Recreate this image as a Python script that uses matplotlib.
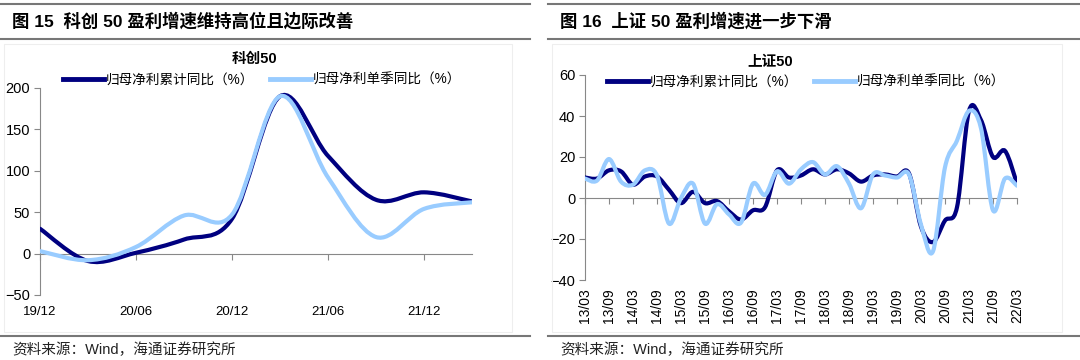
import numpy as np
import matplotlib.pyplot as plt
from matplotlib.path import Path
from matplotlib.patches import PathPatch, Rectangle
from matplotlib.lines import Line2D

plt.rcParams['font.family'] = ['Liberation Sans', 'Noto Sans CJK SC']

# 科创50 quarterly
kc_dates = ['19/12', '20/03', '20/06', '20/09', '20/12', '21/03', '21/06', '21/09', '21/12', '22/03']
kc_cum = [30, -9, 1, 17, 42, 190, 118, 65, 74, 63]
kc_q = [3, -8, 8, 46, 47, 190, 92, 20, 54, 62]

# 上证50 quarterly 13/03 .. 22/03
sz_dates = ['%02d/%s' % (y, m) for y in range(13, 23) for m in ['03', '06', '09', '12']][:37]
sz_cum = [10, 9.5, 13.5, 13, 6.5, 10.5, 10.5, 4, -2.5, 3, -2.5, -1.5, -6.5, -10.5, -6, -4.5,
          13.5, 10, 11, 14, 11.5, 14, 12, 8, 11, 11.5, 10.5, 12, -14, -21.5, -11, -4.5,
          42.5, 38, 20, 23, 7]
sz_q = [9.5, 8.5, 19, 8, 6.5, 13.5, 11, -12.5, 0, 7, -12.5, -3, -8, -12, 7, 1.5,
        13, 7, 14, 17.5, 11.5, 15.5, 7, -5, 11.5, 11, 10, 11.5, -13, -26, 15, 28,
        42.5, 34, -6, 9.5, 6]

lbl_cum = '归母净利累计同比（%）'
lbl_q = '归母净利单季同比（%）'
c_dark = '#000080'
c_light = '#99CCFF'


def smooth_line(ax, ys, color):
    # excel-like smoothed line: cubic bezier through the data points
    p = np.column_stack([np.arange(len(ys)), ys]).astype(float)
    ext = np.vstack([p[0], p, p[-1]])
    verts = [p[0]]
    codes = [Path.MOVETO]
    for i in range(len(p) - 1):
        c1 = p[i] + (ext[i + 2] - ext[i]) / 6
        c2 = p[i + 1] - (ext[i + 3] - ext[i + 1]) / 6
        verts += [c1, c2, p[i + 1]]
        codes += [Path.CURVE4] * 3
    ax.add_patch(PathPatch(Path(verts, codes), fill=False, edgecolor=color, lw=3,
                           capstyle='round', joinstyle='round', zorder=3))


W, H = 1080, 360
fig = plt.figure(figsize=(W / 100, H / 100), dpi=100)


def frame(x0, x1, title):
    for yy in [4, 39, 336]:
        fig.add_artist(Line2D([x0 / W, x1 / W], [1 - yy / H, 1 - yy / H], color='#777777', lw=1.5))
    fig.add_artist(Rectangle(((x0 + 4) / W, 1 - 332 / H), (x1 - x0 - 22) / W, 288 / H,
                             fill=False, edgecolor='#eeeeee', lw=0.8))
    fig.text((x0 + 12) / W, 1 - 21 / H, title, fontsize=12.5, fontweight='bold', va='center')
    fig.text((x0 + 12) / W, 1 - 350 / H, '资料来源：Wind，海通证券研究所', fontsize=10.5,
             va='center', color='#222222')


frame(0, 530, '图 15  科创 50 盈利增速维持高位且边际改善')
frame(548, 1080, '图 16  上证 50 盈利增速进一步下滑')


def style(ax, ticks, labels, rot):
    for s in ['top', 'right']:
        ax.spines[s].set_visible(False)
    ax.spines['left'].set_color('#888888')
    ax.spines['bottom'].set_position(('data', 0))
    ax.spines['bottom'].set_color('#888888')
    ax.tick_params(axis='y', length=4, color='#888888', labelsize=10.5, pad=3)
    ax.set_xticks(ticks)
    ax.tick_params(axis='x', length=4, color='#888888', labelbottom=False)
    sec = ax.secondary_xaxis(0.0)
    sec.set_xticks(ticks, labels, rotation=rot)
    sec.spines['bottom'].set_visible(False)
    sec.tick_params(length=0, labelsize=10 if rot else 9.5, pad=6 if rot else 8)


# left panel
ax1 = fig.add_axes([40 / W, 1 - 295 / H, 432 / W, 207 / H])
smooth_line(ax1, kc_cum, c_dark)
smooth_line(ax1, kc_q, c_light)
ax1.set_xlim(0, len(kc_dates) - 1)
ax1.set_ylim(-50, 200)
ax1.set_yticks(range(-50, 201, 50))
style(ax1, range(0, len(kc_dates), 2), kc_dates[::2], 0)
fig.text(255 / W, 1 - 59 / H, '科创50', fontsize=10.5, fontweight='bold', ha='center', va='center')

# right panel
ax2 = fig.add_axes([585 / W, 1 - 280 / H, 432 / W, 205 / H])
smooth_line(ax2, sz_cum, c_dark)
smooth_line(ax2, sz_q, c_light)
ax2.set_xlim(0, len(sz_dates) - 1)
ax2.set_ylim(-40, 60)
ax2.set_yticks(range(-40, 61, 20))
style(ax2, range(0, len(sz_dates), 2), sz_dates[::2], 90)
fig.text(770 / W, 1 - 62 / H, '上证50', fontsize=10.5, fontweight='bold', ha='center', va='center')

handles = [Line2D([], [], color=c_dark, lw=3.5), Line2D([], [], color=c_light, lw=3.5)]
for x, y in [(262, 80), (806, 82)]:
    fig.legend(handles, [lbl_cum, lbl_q], loc='center', bbox_to_anchor=(x / W, 1 - y / H),
               ncol=2, frameon=False, fontsize=9.8, handlelength=3.0, handletextpad=0.1,
               columnspacing=1.2, borderpad=0)

fig.savefig('out.png', dpi=100)
